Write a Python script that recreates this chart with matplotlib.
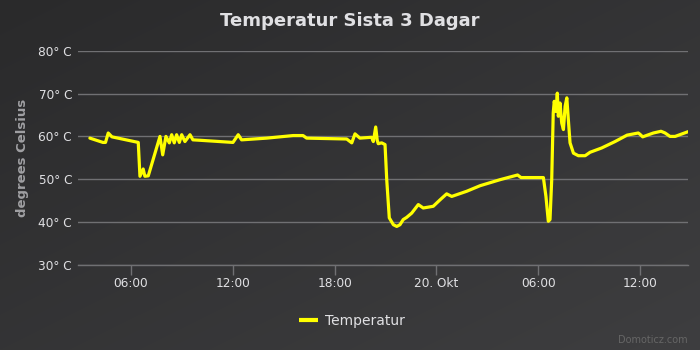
import numpy as np
import matplotlib
matplotlib.use("Agg")
import matplotlib.pyplot as plt

# hours since 19 Oct 00:00
hours = [3.58, 4.35, 4.50, 4.66, 4.88, 6.43, 6.53, 6.72, 6.82, 7.02,
         7.71, 7.87, 8.06, 8.26, 8.40, 8.55, 8.69, 8.85, 8.99, 9.18,
         9.48, 9.65, 10.07, 12.01, 12.32, 12.52, 14.00, 15.55, 16.14, 16.35,
         18.71, 19.01, 19.20, 19.49, 20.18, 20.28, 20.42, 20.51, 20.57, 20.77,
         20.97, 21.07, 21.22, 21.46, 21.66, 21.85, 22.04, 22.24, 22.54, 22.93,
         23.22, 23.52, 23.81, 24.21, 24.60, 24.90, 25.78, 26.57, 27.74, 28.78,
         28.98, 30.30, 30.45, 30.59, 30.69, 30.79, 30.88, 30.94, 31.04, 31.12,
         31.18, 31.28, 31.38, 31.48, 31.58, 31.68, 31.77, 31.87, 32.07, 32.36,
         32.76, 33.05, 33.73, 34.52, 35.23, 35.89, 35.99, 36.15, 36.78, 37.23,
         37.47, 37.76, 38.06, 38.82]
temps = [59.6, 58.6, 58.6, 60.8, 59.9, 58.6, 50.7, 52.4, 50.7, 50.8,
         60.0, 55.7, 60.0, 58.5, 60.4, 58.5, 60.4, 58.6, 60.4, 58.8,
         60.4, 59.2, 59.1, 58.6, 60.4, 59.2, 59.6, 60.2, 60.2, 59.6,
         59.4, 58.5, 60.6, 59.6, 59.8, 58.8, 62.2, 59.1, 58.3, 58.5,
         58.1, 49.9, 41.0, 39.4, 39.0, 39.4, 40.6, 41.1, 42.1, 44.1,
         43.3, 43.5, 43.7, 45.2, 46.6, 46.0, 47.2, 48.5, 49.9, 51.0,
         50.4, 50.4, 46.0, 40.2, 40.6, 49.9, 65.5, 68.2, 65.8, 70.1,
         64.7, 67.8, 63.1, 61.6, 67.0, 69.0, 63.9, 58.5, 56.1, 55.5,
         55.5, 56.3, 57.3, 58.8, 60.3, 60.8, 60.5, 59.9, 60.8, 61.2,
         60.8, 60.0, 60.0, 61.1]

tick_hours = [6, 12, 18, 24, 30, 36]
tick_labels = ["06:00", "12:00", "18:00", "20. Okt", "06:00", "12:00"]
y_ticks = [30, 40, 50, 60, 70, 80]
y_labels = [f"{v}° C" for v in y_ticks]

W, H = 700, 350
fig = plt.figure(figsize=(7, 3.5), dpi=100)

# background gradient
bg = fig.add_axes([0, 0, 1, 1])
bg.axis("off")
u = np.linspace(0, 1, W)
v = np.linspace(0, 1, H)
U, V = np.meshgrid(u, v)
T = (U + V) / 2
c0 = np.array([0x2a, 0x2a, 0x2b]) / 255
c1 = np.array([0x3e, 0x3e, 0x40]) / 255
img = c0 + (c1 - c0) * T[..., None]
bg.imshow(img, aspect="auto", extent=[0, 1, 0, 1], origin="upper", zorder=0)
bg.set_xlim(0, 1)
bg.set_ylim(0, 1)

ax = fig.add_axes([78 / W, 85 / H, 610 / W, (265 - 50.7) / H])
ax.set_facecolor("none")
line, = ax.plot(hours, temps, color="#ffff00", lw=2.3,
                solid_joinstyle="round", solid_capstyle="round", zorder=3,
                label="Temperatur")
ax.set_xlim(2.88, 38.82)
ax.set_ylim(30, 80)
ax.set_yticks(y_ticks, y_labels)
ax.set_xticks(tick_hours, tick_labels)
ax.yaxis.grid(True, color="#707073", lw=1)
ax.set_axisbelow(True)
for s in ["top", "right", "left"]:
    ax.spines[s].set_visible(False)
ax.spines["bottom"].set_color("#707073")
ax.spines["bottom"].set_linewidth(1)
ax.tick_params(axis="x", colors="#707073", length=7.2, width=1, direction="out",
               labelcolor="#E0E0E3", labelsize=8.7, pad=1.2)
ax.tick_params(axis="y", length=0, pad=4.3, labelcolor="#E0E0E3", labelsize=8.7)

fig.text(23 / W, 1 - 157.9 / H, "degrees Celsius", rotation=90, ha="center",
         va="center", color="#A0A0A3", fontsize=9.5, fontweight="bold")
fig.text(0.5, 1 - 21 / H, "Temperatur Sista 3 Dagar", ha="center", va="center",
         color="#E0E0E3", fontsize=13, fontweight="bold")

leg = ax.legend(handles=[line], loc="center", bbox_to_anchor=(352 / W, 1 - 320.7 / H),
                bbox_transform=fig.transFigure, frameon=False, handlelength=1.35,
                handletextpad=0.5, fontsize=10, labelcolor="#E0E0E3")
for l in leg.get_lines():
    l.set_linewidth(3)
    l.set_solid_capstyle("butt")

fig.text(688 / W, 1 - 340 / H, "Domoticz.com", ha="right", va="center",
         fontsize=7, color="#666666")

fig.savefig("out.png", dpi=100)
